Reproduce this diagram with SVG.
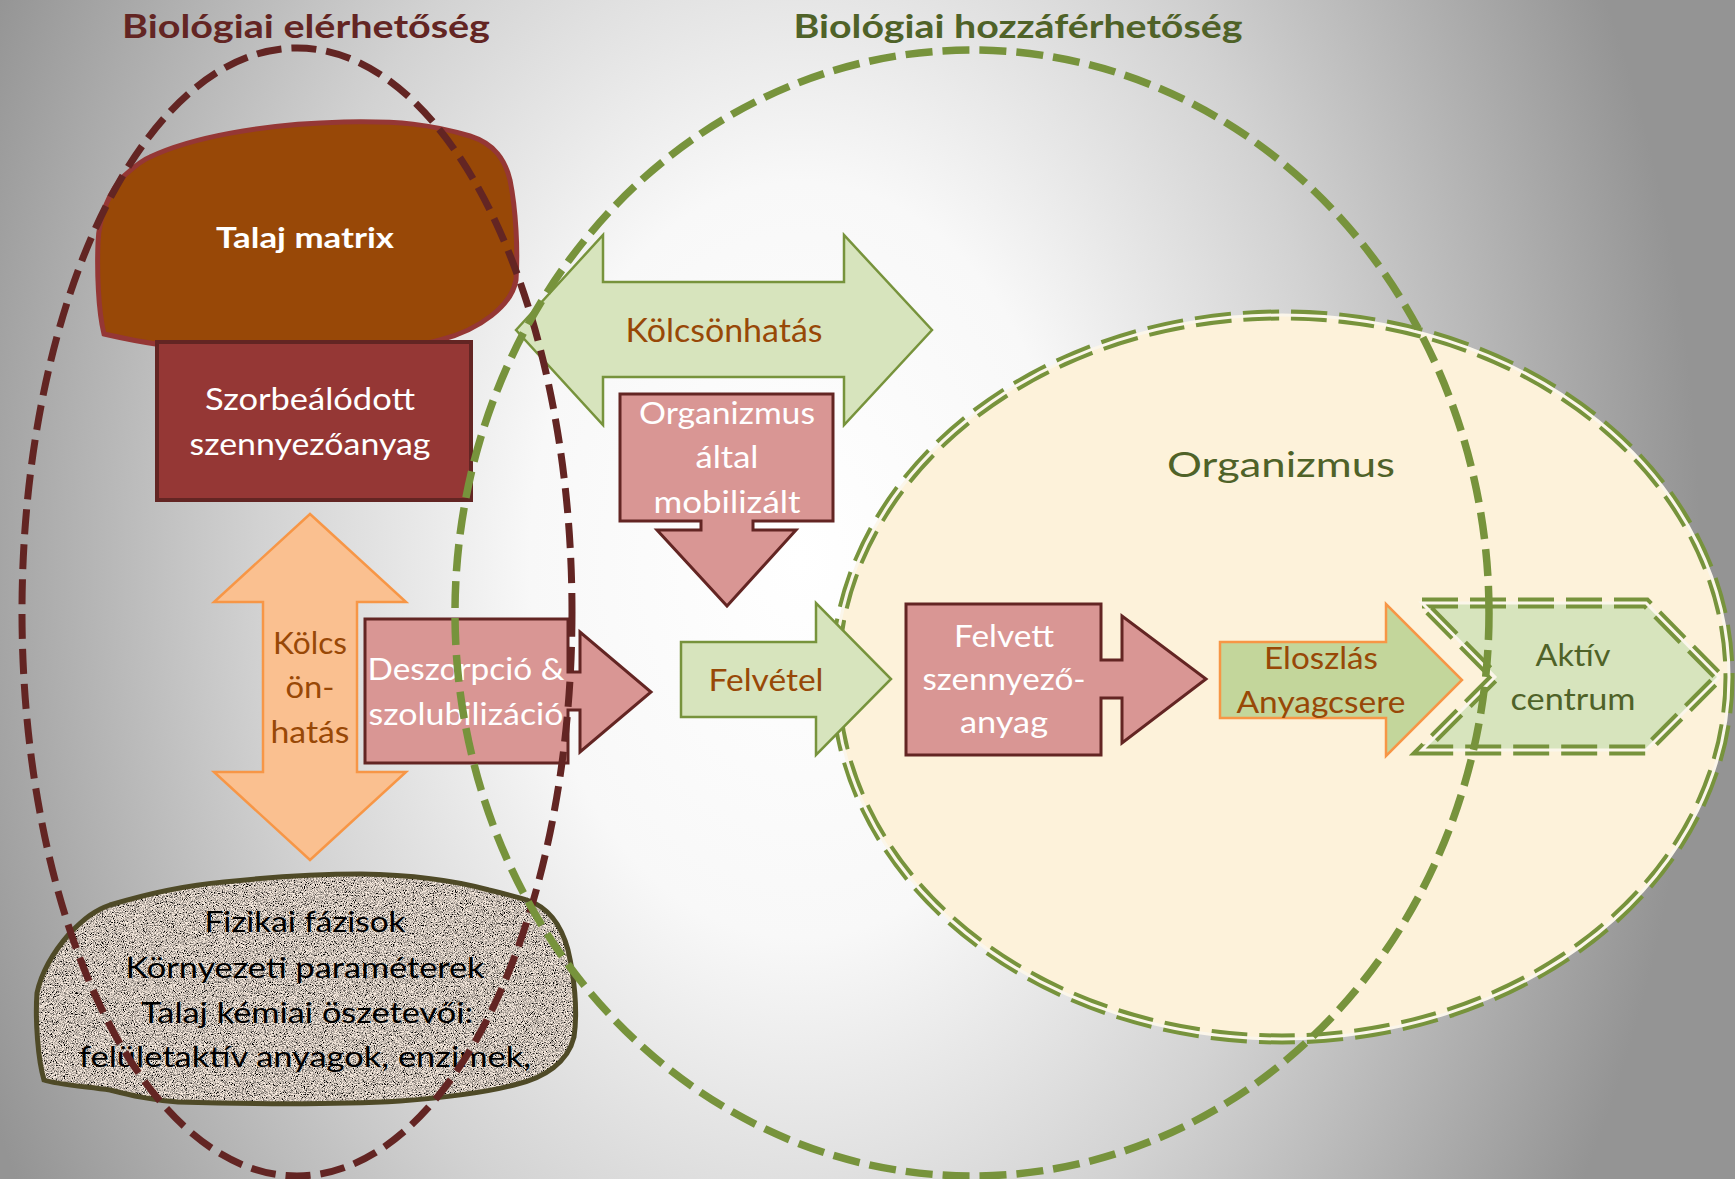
<svg xmlns="http://www.w3.org/2000/svg" width="1735" height="1179" viewBox="0 0 1735 1179">
  <defs>
    <radialGradient id="bg" gradientUnits="userSpaceOnUse" cx="800" cy="560" r="900" gradientTransform="translate(800 560) scale(1 1.4) translate(-800 -560)">
      <stop offset="0" stop-color="#ffffff"/>
      <stop offset="0.3" stop-color="#f8f8f8"/>
      <stop offset="0.6" stop-color="#d2d2d2"/>
      <stop offset="1" stop-color="#949494"/>
    </radialGradient>
    <filter id="grain" x="0" y="0" width="1" height="1">
      <feTurbulence type="fractalNoise" baseFrequency="1.1" numOctaves="2" seed="4" result="noise"/>
      <feColorMatrix in="noise" type="saturate" values="0" result="gray"/>
      <feComponentTransfer in="gray" result="contrast">
        <feFuncR type="linear" slope="3.6" intercept="-1.2"/>
        <feFuncG type="linear" slope="3.6" intercept="-1.2"/>
        <feFuncB type="linear" slope="3.6" intercept="-1.2"/>
        <feFuncA type="linear" slope="0" intercept="1"/>
      </feComponentTransfer>
      <feBlend in="contrast" in2="SourceGraphic" mode="overlay" result="mix"/>
      <feComposite in="mix" in2="SourceGraphic" operator="in"/>
    </filter>
  </defs>
  <style>
    text { font-family: Lato, "Open Sans", "Liberation Sans", sans-serif; text-anchor: middle; }
    .title { font-size: 33px; font-weight: bold; }
    .t-red { fill: #632523; }
    .t-green { fill: #4f6228; }
    .t-brown { fill: #984807; }
    .t-white { fill: #ffffff; }
    .t-black { fill: #000000; }
    .lbl { font-size: 30.5px; }
    .soil { font-size: 28px; }
    .pink { fill: #d99694; stroke: #632523; stroke-width: 3; }
    .lgreen { fill: #d7e4bd; stroke: #77933c; stroke-width: 2.5; }
    .dash-red { fill: none; stroke: #632523; stroke-width: 7; stroke-dasharray: 25 10; }
    .dash-green { fill: none; stroke: #77933c; stroke-width: 7.5; stroke-dasharray: 27 10; }
    .dbl-outer { fill: none; stroke: #77933c; stroke-width: 11; stroke-dasharray: 36 12; }
    .dbl-mid { fill: none; stroke: #fbf6ea; stroke-width: 3; }
  </style>

  <!-- background -->
  <rect x="0" y="0" width="1735" height="1179" fill="url(#bg)"/>

  <!-- organism area -->
  <g id="organizmus">
    <ellipse cx="1282" cy="677" rx="447" ry="362" fill="#fdf2da"/>
    <ellipse class="dbl-outer" cx="1282" cy="677" rx="447" ry="362"/>
    <ellipse class="dbl-mid" cx="1282" cy="677" rx="447" ry="362"/>
    <text class="t-green" x="1281" y="477" font-size="35" textLength="228" lengthAdjust="spacingAndGlyphs">Organizmus</text>
  </g>

  <!-- soil matrix -->
  <g id="talaj-matrix">
    <path d="M150,157 C190,138 260,124 344,122 C400,121 430,124 470,136 C495,144 505,160 510,180 C516,210 518,250 516,280 C512,305 480,330 440,340 C400,352 290,352 214,350 C170,348 130,340 104,334 C98,310 97,270 98,243 C99,215 110,190 125,175 C135,166 142,160 150,157 Z" fill="#984807" stroke="#953735" stroke-width="5"/>
    <text class="t-white" x="305" y="248" font-size="29" font-weight="bold" textLength="178" lengthAdjust="spacingAndGlyphs">Talaj matrix</text>
  </g>

  <!-- sorbed pollutant -->
  <g id="szorbealodott">
    <rect x="157" y="342" width="314" height="158" fill="#953735" stroke="#632523" stroke-width="4"/>
    <text class="t-white lbl" x="310" y="410" textLength="210" lengthAdjust="spacingAndGlyphs">Szorbeálódott</text>
    <text class="t-white lbl" x="310" y="455" textLength="241" lengthAdjust="spacingAndGlyphs">szennyezőanyag</text>
  </g>

  <!-- physical phases -->
  <g id="fizikai-fazisok">
    <path d="M110,905 C150,893 190,885 224,882 C280,876 320,874 361,874 C420,875 460,882 489,890 C510,895 520,898 527,900 C545,906 560,920 568,950 C574,975 578,1010 574,1037 C568,1062 545,1078 514,1085 C480,1094 440,1098 400,1101 C330,1105 250,1104 178,1102 C150,1100 130,1095 110,1090 C80,1086 55,1084 44,1080 C38,1060 35,1020 37,993 C42,970 55,950 70,933 C85,918 95,910 110,905 Z" fill="#b9afa6" filter="url(#grain)"/>
    <path d="M110,905 C150,893 190,885 224,882 C280,876 320,874 361,874 C420,875 460,882 489,890 C510,895 520,898 527,900 C545,906 560,920 568,950 C574,975 578,1010 574,1037 C568,1062 545,1078 514,1085 C480,1094 440,1098 400,1101 C330,1105 250,1104 178,1102 C150,1100 130,1095 110,1090 C80,1086 55,1084 44,1080 C38,1060 35,1020 37,993 C42,970 55,950 70,933 C85,918 95,910 110,905 Z" fill="none" stroke="#4f4a27" stroke-width="5"/>
    <text class="t-black soil" x="305" y="932" textLength="201" lengthAdjust="spacingAndGlyphs">Fizikai fázisok</text>
    <text class="t-black soil" x="305" y="978" textLength="359" lengthAdjust="spacingAndGlyphs">Környezeti paraméterek</text>
    <text class="t-black soil" x="307" y="1023" textLength="332" lengthAdjust="spacingAndGlyphs">Talaj kémiai öszetevői:</text>
    <text class="t-black soil" x="305" y="1067" textLength="452" lengthAdjust="spacingAndGlyphs">felületaktív anyagok, enzimek,</text>
  </g>

  <!-- vertical interaction -->
  <g id="kolcsonhatas-fuggoleges">
    <path d="M310,514 L406,602 H357 V772 H406 L310,860 L214,772 H263 V602 H214 Z" fill="#fac090" stroke="#f79646" stroke-width="2.5"/>
    <text class="t-brown lbl" x="310" y="654" textLength="74" lengthAdjust="spacingAndGlyphs">Kölcs</text>
    <text class="t-brown lbl" x="310" y="698" textLength="49" lengthAdjust="spacingAndGlyphs">ön-</text>
    <text class="t-brown lbl" x="310" y="743" textLength="79" lengthAdjust="spacingAndGlyphs">hatás</text>
  </g>

  <!-- desorption -->
  <g id="deszorpcio">
    <path class="pink" d="M365,619 H568 V672 H580 V632 L651,692 L580,752 V710 H568 V763 H365 Z"/>
    <text class="t-white lbl" x="466" y="680" textLength="197" lengthAdjust="spacingAndGlyphs">Deszorpció &amp;</text>
    <text class="t-white lbl" x="466" y="725" textLength="195" lengthAdjust="spacingAndGlyphs">szolubilizáció</text>
  </g>

  <!-- horizontal interaction -->
  <g id="kolcsonhatas">
    <path class="lgreen" d="M516,330 L603,235 V282 H844 V235 L932,330 L844,425 V377 H603 V425 Z"/>
    <text class="t-brown" x="724" y="342" font-size="32" textLength="197" lengthAdjust="spacingAndGlyphs">Kölcsönhatás</text>
  </g>

  <!-- mobilised by organism -->
  <g id="mobilizalt">
    <path class="pink" d="M620,394 H833 V521 H753 V530 H796 L727,606 L657,530 H701 V521 H620 Z"/>
    <text class="t-white lbl" x="727" y="424" textLength="176" lengthAdjust="spacingAndGlyphs">Organizmus</text>
    <text class="t-white lbl" x="727" y="468" textLength="63" lengthAdjust="spacingAndGlyphs">által</text>
    <text class="t-white lbl" x="727" y="513" textLength="147" lengthAdjust="spacingAndGlyphs">mobilizált</text>
  </g>

  <!-- uptake -->
  <g id="felvetel">
    <path class="lgreen" d="M681,642 H816 V603 L891,679 L816,755 V717 H681 Z"/>
    <text class="t-brown lbl" x="766" y="691" textLength="115" lengthAdjust="spacingAndGlyphs">Felvétel</text>
  </g>

  <!-- absorbed pollutant -->
  <g id="felvett">
    <path class="pink" d="M906,604 H1101 V660 H1122 V616 L1206,679 L1122,743 V698 H1101 V755 H906 Z"/>
    <text class="t-white lbl" x="1004" y="647" textLength="100" lengthAdjust="spacingAndGlyphs">Felvett</text>
    <text class="t-white lbl" x="1004" y="690" textLength="163" lengthAdjust="spacingAndGlyphs">szennyező-</text>
    <text class="t-white lbl" x="1004" y="733" textLength="88" lengthAdjust="spacingAndGlyphs">anyag</text>
  </g>

  <!-- distribution / metabolism -->
  <g id="eloszlas">
    <path d="M1220,642 H1386 V604 L1462,680 L1386,756 V718 H1220 Z" fill="#c3d69b" stroke="#f79646" stroke-width="2.5"/>
    <text class="t-brown lbl" x="1321" y="669" textLength="114" lengthAdjust="spacingAndGlyphs">Eloszlás</text>
    <text class="t-brown lbl" x="1321" y="713" textLength="169" lengthAdjust="spacingAndGlyphs">Anyagcsere</text>
  </g>

  <!-- active centre -->
  <g id="aktiv-centrum">
    <path d="M1422,603 H1646 L1719,677 L1646,750 H1422 L1495,677 Z" fill="#d7e4bd"/>
    <path class="dbl-outer" d="M1422,603 H1646 L1719,677 L1646,750 H1422 L1495,677 Z" stroke-width="10" stroke-dasharray="34 12"/>
    <path class="dbl-mid" d="M1422,603 H1646 L1719,677 L1646,750 H1422 L1495,677 Z" stroke="#f4f6ea"/>
    <text class="t-green lbl" x="1573" y="666" textLength="75" lengthAdjust="spacingAndGlyphs">Aktív</text>
    <text class="t-green lbl" x="1573" y="710" textLength="125" lengthAdjust="spacingAndGlyphs">centrum</text>
  </g>

  <!-- availability boundaries -->
  <g id="hatarolo-ellipszisek">
    <ellipse class="dash-red" cx="297" cy="612" rx="275" ry="564"/>
    <ellipse class="dash-green" cx="972" cy="613" rx="517" ry="563"/>
  </g>

  <!-- headings -->
  <g id="cimek">
    <text class="title t-red" x="306" y="38" textLength="368" lengthAdjust="spacingAndGlyphs">Biológiai elérhetőség</text>
    <text class="title t-green" x="1018" y="38" textLength="449" lengthAdjust="spacingAndGlyphs">Biológiai hozzáférhetőség</text>
  </g>
</svg>
